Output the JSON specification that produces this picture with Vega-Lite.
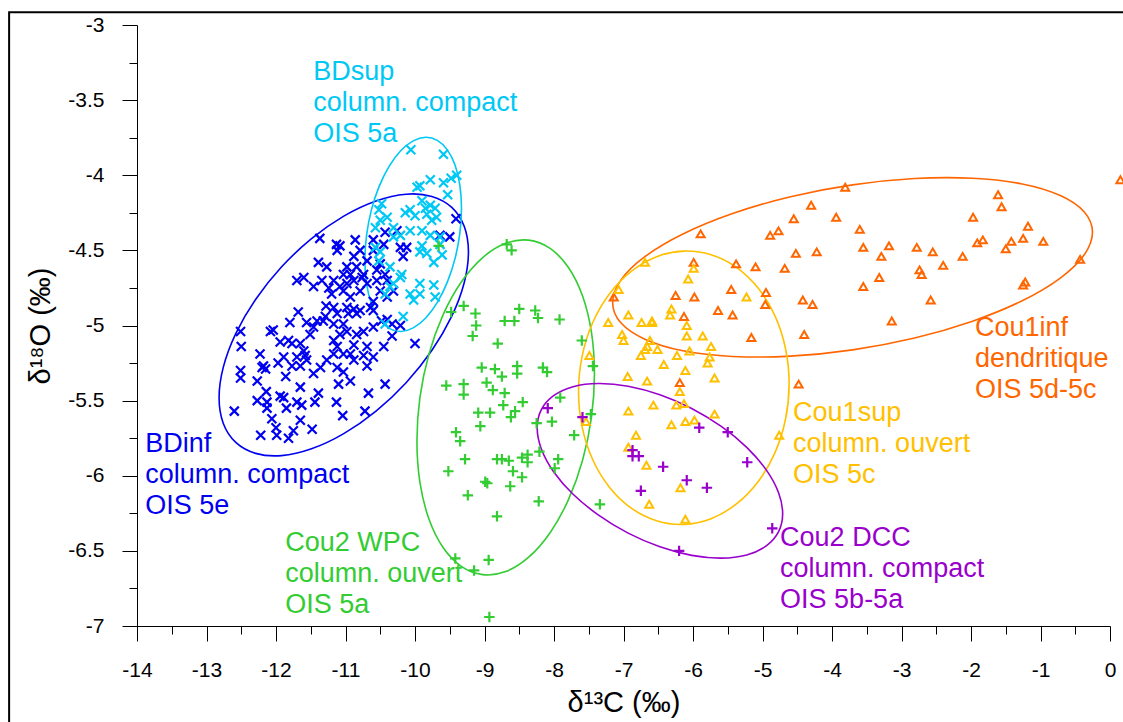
{
  "$schema": "https://vega.github.io/schema/vega-lite/v6.json",
  "width": 973,
  "height": 601,
  "autosize": "none",
  "padding": {"left": 137, "top": 25, "right": 13, "bottom": 96},
  "background": "white",
  "config": {
    "view": {"stroke": null},
    "font": "Liberation Sans",
    "axis": {"grid": false, "labelFont": "Liberation Sans", "titleFont": "Liberation Sans", "labelColor": "black", "titleColor": "black", "tickColor": "black", "domainColor": "black", "titleFontWeight": "normal", "labelFlush": false, "labelOverlap": false}
  },
  "datasets": {
    "frame": [{"x": -15.84, "y": -2.915, "x2": 0.3, "y2": -7.72}],
    "lab": [
      {"g": "BDsup", "x": -11.464, "y": -3.228, "t": "BDsup\ncolumn. compact\nOIS 5a"},
      {"g": "BDinf", "x": -13.881, "y": -5.705, "t": "BDinf\ncolumn. compact\nOIS 5e"},
      {"g": "Cou2 WPC", "x": -11.867, "y": -6.364, "t": "Cou2 WPC\ncolumn. ouvert\nOIS 5a"},
      {"g": "Cou2 DCC", "x": -4.747, "y": -6.331, "t": "Cou2 DCC\ncolumn. compact\nOIS 5b-5a"},
      {"g": "Cou1sup", "x": -4.56, "y": -5.499, "t": "Cou1sup\ncolumn. ouvert\nOIS 5c"},
      {"g": "Cou1inf", "x": -1.942, "y": -4.933, "t": "Cou1inf\ndendritique\nOIS 5d-5c"}
    ],
    "ell": [
      {"g":"BDinf","i":0,"x":-9.231,"y":-4.511},{"g":"BDinf","i":1,"x":-9.292,"y":-4.340},{"g":"BDinf","i":2,"x":-9.471,"y":-4.214},{"g":"BDinf","i":3,"x":-9.757,"y":-4.141},{"g":"BDinf","i":4,"x":-10.128,"y":-4.126},{"g":"BDinf","i":5,"x":-10.561,"y":-4.171},{"g":"BDinf","i":6,"x":-11.025,"y":-4.272},{"g":"BDinf","i":7,"x":-11.489,"y":-4.422},{"g":"BDinf","i":8,"x":-11.922,"y":-4.611},{"g":"BDinf","i":9,"x":-12.294,"y":-4.827},{"g":"BDinf","i":10,"x":-12.579,"y":-5.054},{"g":"BDinf","i":11,"x":-12.758,"y":-5.277},{"g":"BDinf","i":12,"x":-12.819,"y":-5.481},{"g":"BDinf","i":13,"x":-12.758,"y":-5.652},{"g":"BDinf","i":14,"x":-12.579,"y":-5.778},{"g":"BDinf","i":15,"x":-12.293,"y":-5.851},{"g":"BDinf","i":16,"x":-11.922,"y":-5.866},{"g":"BDinf","i":17,"x":-11.489,"y":-5.821},{"g":"BDinf","i":18,"x":-11.025,"y":-5.720},{"g":"BDinf","i":19,"x":-10.561,"y":-5.570},{"g":"BDinf","i":20,"x":-10.128,"y":-5.381},{"g":"BDinf","i":21,"x":-9.756,"y":-5.165},{"g":"BDinf","i":22,"x":-9.471,"y":-4.938},{"g":"BDinf","i":23,"x":-9.292,"y":-4.715},
      {"g":"BDsup","i":0,"x":-9.331,"y":-4.220},{"g":"BDsup","i":1,"x":-9.355,"y":-4.065},{"g":"BDsup","i":2,"x":-9.424,"y":-3.932},{"g":"BDsup","i":3,"x":-9.535,"y":-3.831},{"g":"BDsup","i":4,"x":-9.679,"y":-3.768},{"g":"BDsup","i":5,"x":-9.846,"y":-3.747},{"g":"BDsup","i":6,"x":-10.026,"y":-3.771},{"g":"BDsup","i":7,"x":-10.206,"y":-3.837},{"g":"BDsup","i":8,"x":-10.373,"y":-3.941},{"g":"BDsup","i":9,"x":-10.517,"y":-4.076},{"g":"BDsup","i":10,"x":-10.628,"y":-4.232},{"g":"BDsup","i":11,"x":-10.697,"y":-4.400},{"g":"BDsup","i":12,"x":-10.721,"y":-4.567},{"g":"BDsup","i":13,"x":-10.697,"y":-4.722},{"g":"BDsup","i":14,"x":-10.628,"y":-4.855},{"g":"BDsup","i":15,"x":-10.517,"y":-4.956},{"g":"BDsup","i":16,"x":-10.373,"y":-5.019},{"g":"BDsup","i":17,"x":-10.206,"y":-5.040},{"g":"BDsup","i":18,"x":-10.026,"y":-5.016},{"g":"BDsup","i":19,"x":-9.846,"y":-4.950},{"g":"BDsup","i":20,"x":-9.679,"y":-4.846},{"g":"BDsup","i":21,"x":-9.535,"y":-4.711},{"g":"BDsup","i":22,"x":-9.424,"y":-4.555},{"g":"BDsup","i":23,"x":-9.355,"y":-4.387},
      {"g":"Cou2 WPC","i":0,"x":-7.418,"y":-5.321},{"g":"Cou2 WPC","i":1,"x":-7.461,"y":-5.046},{"g":"Cou2 WPC","i":2,"x":-7.589,"y":-4.804},{"g":"Cou2 WPC","i":3,"x":-7.792,"y":-4.614},{"g":"Cou2 WPC","i":4,"x":-8.056,"y":-4.487},{"g":"Cou2 WPC","i":5,"x":-8.364,"y":-4.432},{"g":"Cou2 WPC","i":6,"x":-8.695,"y":-4.453},{"g":"Cou2 WPC","i":7,"x":-9.026,"y":-4.548},{"g":"Cou2 WPC","i":8,"x":-9.334,"y":-4.711},{"g":"Cou2 WPC","i":9,"x":-9.598,"y":-4.931},{"g":"Cou2 WPC","i":10,"x":-9.801,"y":-5.193},{"g":"Cou2 WPC","i":11,"x":-9.929,"y":-5.479},{"g":"Cou2 WPC","i":12,"x":-9.972,"y":-5.769},{"g":"Cou2 WPC","i":13,"x":-9.929,"y":-6.044},{"g":"Cou2 WPC","i":14,"x":-9.801,"y":-6.286},{"g":"Cou2 WPC","i":15,"x":-9.598,"y":-6.476},{"g":"Cou2 WPC","i":16,"x":-9.334,"y":-6.603},{"g":"Cou2 WPC","i":17,"x":-9.026,"y":-6.658},{"g":"Cou2 WPC","i":18,"x":-8.695,"y":-6.638},{"g":"Cou2 WPC","i":19,"x":-8.364,"y":-6.542},{"g":"Cou2 WPC","i":20,"x":-8.056,"y":-6.379},{"g":"Cou2 WPC","i":21,"x":-7.792,"y":-6.159},{"g":"Cou2 WPC","i":22,"x":-7.589,"y":-5.897},{"g":"Cou2 WPC","i":23,"x":-7.461,"y":-5.611},
      {"g":"Cou1inf","i":0,"x":-0.252,"y":-4.378},{"g":"Cou1inf","i":1,"x":-0.370,"y":-4.244},{"g":"Cou1inf","i":2,"x":-0.715,"y":-4.135},{"g":"Cou1inf","i":3,"x":-1.263,"y":-4.058},{"g":"Cou1inf","i":4,"x":-1.978,"y":-4.020},{"g":"Cou1inf","i":5,"x":-2.811,"y":-4.022},{"g":"Cou1inf","i":6,"x":-3.704,"y":-4.064},{"g":"Cou1inf","i":7,"x":-4.597,"y":-4.143},{"g":"Cou1inf","i":8,"x":-5.430,"y":-4.255},{"g":"Cou1inf","i":9,"x":-6.145,"y":-4.391},{"g":"Cou1inf","i":10,"x":-6.693,"y":-4.542},{"g":"Cou1inf","i":11,"x":-7.038,"y":-4.698},{"g":"Cou1inf","i":12,"x":-7.156,"y":-4.848},{"g":"Cou1inf","i":13,"x":-7.038,"y":-4.982},{"g":"Cou1inf","i":14,"x":-6.693,"y":-5.091},{"g":"Cou1inf","i":15,"x":-6.145,"y":-5.168},{"g":"Cou1inf","i":16,"x":-5.430,"y":-5.206},{"g":"Cou1inf","i":17,"x":-4.597,"y":-5.204},{"g":"Cou1inf","i":18,"x":-3.704,"y":-5.162},{"g":"Cou1inf","i":19,"x":-2.811,"y":-5.083},{"g":"Cou1inf","i":20,"x":-1.978,"y":-4.971},{"g":"Cou1inf","i":21,"x":-1.263,"y":-4.835},{"g":"Cou1inf","i":22,"x":-0.715,"y":-4.684},{"g":"Cou1inf","i":23,"x":-0.370,"y":-4.529},
      {"g":"Cou1sup","i":0,"x":-4.617,"y":-5.387},{"g":"Cou1sup","i":1,"x":-4.669,"y":-5.153},{"g":"Cou1sup","i":2,"x":-4.820,"y":-4.936},{"g":"Cou1sup","i":3,"x":-5.061,"y":-4.752},{"g":"Cou1sup","i":4,"x":-5.375,"y":-4.613},{"g":"Cou1sup","i":5,"x":-5.740,"y":-4.529},{"g":"Cou1sup","i":6,"x":-6.132,"y":-4.505},{"g":"Cou1sup","i":7,"x":-6.524,"y":-4.542},{"g":"Cou1sup","i":8,"x":-6.889,"y":-4.640},{"g":"Cou1sup","i":9,"x":-7.203,"y":-4.790},{"g":"Cou1sup","i":10,"x":-7.444,"y":-4.982},{"g":"Cou1sup","i":11,"x":-7.595,"y":-5.204},{"g":"Cou1sup","i":12,"x":-7.647,"y":-5.441},{"g":"Cou1sup","i":13,"x":-7.595,"y":-5.675},{"g":"Cou1sup","i":14,"x":-7.444,"y":-5.892},{"g":"Cou1sup","i":15,"x":-7.203,"y":-6.076},{"g":"Cou1sup","i":16,"x":-6.889,"y":-6.215},{"g":"Cou1sup","i":17,"x":-6.524,"y":-6.299},{"g":"Cou1sup","i":18,"x":-6.132,"y":-6.324},{"g":"Cou1sup","i":19,"x":-5.740,"y":-6.286},{"g":"Cou1sup","i":20,"x":-5.375,"y":-6.188},{"g":"Cou1sup","i":21,"x":-5.061,"y":-6.038},{"g":"Cou1sup","i":22,"x":-4.820,"y":-5.846},{"g":"Cou1sup","i":23,"x":-4.669,"y":-5.624},
      {"g":"Cou2 DCC","i":0,"x":-4.710,"y":-6.253},{"g":"Cou2 DCC","i":1,"x":-4.770,"y":-6.112},{"g":"Cou2 DCC","i":2,"x":-4.946,"y":-5.961},{"g":"Cou2 DCC","i":3,"x":-5.227,"y":-5.811},{"g":"Cou2 DCC","i":4,"x":-5.593,"y":-5.672},{"g":"Cou2 DCC","i":5,"x":-6.019,"y":-5.552},{"g":"Cou2 DCC","i":6,"x":-6.476,"y":-5.461},{"g":"Cou2 DCC","i":7,"x":-6.933,"y":-5.404},{"g":"Cou2 DCC","i":8,"x":-7.359,"y":-5.386},{"g":"Cou2 DCC","i":9,"x":-7.725,"y":-5.407},{"g":"Cou2 DCC","i":10,"x":-8.006,"y":-5.467},{"g":"Cou2 DCC","i":11,"x":-8.182,"y":-5.560},{"g":"Cou2 DCC","i":12,"x":-8.242,"y":-5.681},{"g":"Cou2 DCC","i":13,"x":-8.182,"y":-5.822},{"g":"Cou2 DCC","i":14,"x":-8.006,"y":-5.973},{"g":"Cou2 DCC","i":15,"x":-7.725,"y":-6.123},{"g":"Cou2 DCC","i":16,"x":-7.359,"y":-6.262},{"g":"Cou2 DCC","i":17,"x":-6.933,"y":-6.382},{"g":"Cou2 DCC","i":18,"x":-6.476,"y":-6.473},{"g":"Cou2 DCC","i":19,"x":-6.019,"y":-6.530},{"g":"Cou2 DCC","i":20,"x":-5.593,"y":-6.548},{"g":"Cou2 DCC","i":21,"x":-5.227,"y":-6.527},{"g":"Cou2 DCC","i":22,"x":-4.946,"y":-6.467},{"g":"Cou2 DCC","i":23,"x":-4.770,"y":-6.374}
    ],
    "pts": [
      {"g":"BDinf","x":-12.51,"y":-5.04},{"g":"BDinf","x":-12.50,"y":-5.14},{"g":"BDinf","x":-12.51,"y":-5.30},{"g":"BDinf","x":-12.51,"y":-5.35},{"g":"BDinf","x":-12.60,"y":-5.57},{"g":"BDinf","x":-12.23,"y":-5.19},{"g":"BDinf","x":-12.27,"y":-5.37},{"g":"BDinf","x":-12.20,"y":-5.28},{"g":"BDinf","x":-12.15,"y":-5.29},{"g":"BDinf","x":-12.14,"y":-5.44},
      {"g":"BDinf","x":-12.27,"y":-5.50},{"g":"BDinf","x":-12.13,"y":-5.51},{"g":"BDinf","x":-12.13,"y":-5.55},{"g":"BDinf","x":-12.06,"y":-5.62},{"g":"BDinf","x":-12.00,"y":-5.68},{"g":"BDinf","x":-11.99,"y":-5.73},{"g":"BDinf","x":-12.22,"y":-5.73},{"g":"BDinf","x":-11.82,"y":-5.75},{"g":"BDinf","x":-11.75,"y":-5.70},{"g":"BDinf","x":-11.65,"y":-5.63},
      {"g":"BDinf","x":-11.48,"y":-5.69},{"g":"BDinf","x":-11.94,"y":-5.47},{"g":"BDinf","x":-11.89,"y":-5.48},{"g":"BDinf","x":-11.85,"y":-5.55},{"g":"BDinf","x":-11.70,"y":-5.51},{"g":"BDinf","x":-11.63,"y":-5.53},{"g":"BDinf","x":-11.44,"y":-5.51},{"g":"BDinf","x":-11.39,"y":-5.45},{"g":"BDinf","x":-11.65,"y":-5.41},{"g":"BDinf","x":-11.86,"y":-5.34},
      {"g":"BDinf","x":-11.97,"y":-5.25},{"g":"BDinf","x":-11.89,"y":-5.21},{"g":"BDinf","x":-12.08,"y":-5.04},{"g":"BDinf","x":-12.04,"y":-5.03},{"g":"BDinf","x":-11.94,"y":-5.11},{"g":"BDinf","x":-11.82,"y":-5.10},{"g":"BDinf","x":-11.77,"y":-5.12},{"g":"BDinf","x":-11.65,"y":-5.12},{"g":"BDinf","x":-11.80,"y":-4.98},{"g":"BDinf","x":-11.68,"y":-4.91},
      {"g":"BDinf","x":-11.56,"y":-4.98},{"g":"BDinf","x":-11.70,"y":-4.70},{"g":"BDinf","x":-11.60,"y":-4.68},{"g":"BDinf","x":-11.46,"y":-4.74},{"g":"BDinf","x":-11.39,"y":-4.58},{"g":"BDinf","x":-11.27,"y":-4.61},{"g":"BDinf","x":-11.34,"y":-4.70},{"g":"BDinf","x":-11.37,"y":-4.42},{"g":"BDinf","x":-11.13,"y":-4.46},{"g":"BDinf","x":-11.12,"y":-4.50},
      {"g":"BDinf","x":-11.08,"y":-4.47},{"g":"BDinf","x":-10.86,"y":-4.43},{"g":"BDinf","x":-11.24,"y":-4.75},{"g":"BDinf","x":-11.20,"y":-4.79},{"g":"BDinf","x":-11.28,"y":-4.87},{"g":"BDinf","x":-11.17,"y":-4.88},{"g":"BDinf","x":-11.12,"y":-4.92},{"g":"BDinf","x":-10.98,"y":-4.88},{"g":"BDinf","x":-10.88,"y":-4.89},{"g":"BDinf","x":-10.79,"y":-4.90},
      {"g":"BDinf","x":-11.65,"y":-5.27},{"g":"BDinf","x":-11.56,"y":-5.23},{"g":"BDinf","x":-11.46,"y":-5.32},{"g":"BDinf","x":-11.58,"y":-5.20},{"g":"BDinf","x":-11.36,"y":-5.28},{"g":"BDinf","x":-11.27,"y":-5.23},{"g":"BDinf","x":-11.17,"y":-5.19},{"g":"BDinf","x":-11.12,"y":-5.28},{"g":"BDinf","x":-11.03,"y":-5.31},{"g":"BDinf","x":-10.93,"y":-5.37},
      {"g":"BDinf","x":-11.10,"y":-5.39},{"g":"BDinf","x":-11.13,"y":-5.51},{"g":"BDinf","x":-11.04,"y":-5.60},{"g":"BDinf","x":-10.72,"y":-5.57},{"g":"BDinf","x":-10.67,"y":-5.45},{"g":"BDinf","x":-10.43,"y":-5.39},{"g":"BDinf","x":-10.69,"y":-5.27},{"g":"BDinf","x":-10.74,"y":-5.20},{"g":"BDinf","x":-10.60,"y":-5.21},{"g":"BDinf","x":-10.45,"y":-5.14},
      {"g":"BDinf","x":-10.00,"y":-5.12},{"g":"BDinf","x":-10.88,"y":-5.23},{"g":"BDinf","x":-10.93,"y":-5.19},{"g":"BDinf","x":-10.84,"y":-5.06},{"g":"BDinf","x":-10.98,"y":-5.04},{"g":"BDinf","x":-11.03,"y":-4.99},{"g":"BDinf","x":-11.17,"y":-4.99},{"g":"BDinf","x":-11.32,"y":-4.97},{"g":"BDinf","x":-11.46,"y":-5.01},{"g":"BDinf","x":-11.51,"y":-5.06},
      {"g":"BDinf","x":-11.17,"y":-5.10},{"g":"BDinf","x":-11.12,"y":-5.14},{"g":"BDinf","x":-11.08,"y":-5.06},{"g":"BDinf","x":-10.74,"y":-5.04},{"g":"BDinf","x":-10.60,"y":-5.01},{"g":"BDinf","x":-10.48,"y":-4.97},{"g":"BDinf","x":-10.33,"y":-4.99},{"g":"BDinf","x":-10.33,"y":-5.07},{"g":"BDinf","x":-10.21,"y":-5.00},{"g":"BDinf","x":-10.40,"y":-4.81},
      {"g":"BDinf","x":-10.50,"y":-4.77},{"g":"BDinf","x":-10.40,"y":-4.70},{"g":"BDinf","x":-10.55,"y":-4.70},{"g":"BDinf","x":-10.69,"y":-4.72},{"g":"BDinf","x":-10.79,"y":-4.77},{"g":"BDinf","x":-10.88,"y":-4.70},{"g":"BDinf","x":-10.98,"y":-4.72},{"g":"BDinf","x":-11.03,"y":-4.77},{"g":"BDinf","x":-10.93,"y":-4.81},{"g":"BDinf","x":-10.84,"y":-4.61},
      {"g":"BDinf","x":-10.98,"y":-4.61},{"g":"BDinf","x":-11.03,"y":-4.66},{"g":"BDinf","x":-10.88,"y":-4.54},{"g":"BDinf","x":-10.79,"y":-4.50},{"g":"BDinf","x":-10.69,"y":-4.57},{"g":"BDinf","x":-10.60,"y":-4.50},{"g":"BDinf","x":-10.60,"y":-4.43},{"g":"BDinf","x":-10.45,"y":-4.46},{"g":"BDinf","x":-10.43,"y":-4.38},{"g":"BDinf","x":-10.26,"y":-4.37},
      {"g":"BDinf","x":-10.21,"y":-4.48},{"g":"BDinf","x":-10.17,"y":-4.54},{"g":"BDinf","x":-10.50,"y":-4.59},{"g":"BDinf","x":-10.43,"y":-4.66},{"g":"BDinf","x":-10.31,"y":-4.77},{"g":"BDinf","x":-10.60,"y":-4.84},{"g":"BDinf","x":-10.64,"y":-4.88},{"g":"BDinf","x":-10.76,"y":-4.68},{"g":"BDinf","x":-10.93,"y":-4.66},{"g":"BDinf","x":-10.74,"y":-4.66},
      {"g":"BDinf","x":-10.55,"y":-4.63},{"g":"BDinf","x":-11.17,"y":-4.70},{"g":"BDinf","x":-11.08,"y":-4.74},{"g":"BDinf","x":-11.29,"y":-4.94},{"g":"BDinf","x":-10.12,"y":-4.48},{"g":"BDinf","x":-9.64,"y":-4.40},{"g":"BDinf","x":-9.50,"y":-4.41},{"g":"BDinf","x":-9.41,"y":-4.29},{"g":"BDinf","x":-10.96,"y":-4.92},{"g":"BDinf","x":-10.84,"y":-4.92},
      {"g":"BDinf","x":-11.60,"y":-5.17},{"g":"BDinf","x":-11.77,"y":-5.27},{"g":"BDinf","x":-12.18,"y":-5.27},{"g":"BDinf","x":-10.40,"y":-4.96},{"g":"BDinf","x":-10.60,"y":-4.90},{"g":"BDinf","x":-11.03,"y":-5.19},{"g":"BDinf","x":-11.41,"y":-4.97},{"g":"BDinf","x":-11.70,"y":-5.21},{"g":"BDinf","x":-10.88,"y":-5.13},{"g":"BDinf","x":-10.69,"y":-5.14},
      {"g":"BDsup","x":-10.06,"y":-3.83},{"g":"BDsup","x":-9.59,"y":-3.86},{"g":"BDsup","x":-9.40,"y":-4.00},{"g":"BDsup","x":-9.48,"y":-4.02},{"g":"BDsup","x":-9.59,"y":-4.05},{"g":"BDsup","x":-9.53,"y":-4.13},{"g":"BDsup","x":-9.78,"y":-4.03},{"g":"BDsup","x":-9.93,"y":-4.07},{"g":"BDsup","x":-9.97,"y":-4.08},{"g":"BDsup","x":-9.90,"y":-4.17},
      {"g":"BDsup","x":-10.07,"y":-4.23},{"g":"BDsup","x":-10.14,"y":-4.25},{"g":"BDsup","x":-10.00,"y":-4.27},{"g":"BDsup","x":-9.85,"y":-4.22},{"g":"BDsup","x":-9.78,"y":-4.20},{"g":"BDsup","x":-9.71,"y":-4.22},{"g":"BDsup","x":-9.83,"y":-4.26},{"g":"BDsup","x":-9.69,"y":-4.28},{"g":"BDsup","x":-9.76,"y":-4.30},{"g":"BDsup","x":-10.48,"y":-4.19},
      {"g":"BDsup","x":-10.52,"y":-4.23},{"g":"BDsup","x":-10.40,"y":-4.28},{"g":"BDsup","x":-10.57,"y":-4.35},{"g":"BDsup","x":-10.31,"y":-4.35},{"g":"BDsup","x":-10.07,"y":-4.37},{"g":"BDsup","x":-10.21,"y":-4.40},{"g":"BDsup","x":-9.90,"y":-4.37},{"g":"BDsup","x":-9.78,"y":-4.40},{"g":"BDsup","x":-10.31,"y":-4.41},{"g":"BDsup","x":-9.90,"y":-4.47},
      {"g":"BDsup","x":-9.64,"y":-4.46},{"g":"BDsup","x":-9.61,"y":-4.53},{"g":"BDsup","x":-9.83,"y":-4.52},{"g":"BDsup","x":-9.93,"y":-4.51},{"g":"BDsup","x":-10.50,"y":-4.51},{"g":"BDsup","x":-10.57,"y":-4.48},{"g":"BDsup","x":-10.52,"y":-4.57},{"g":"BDsup","x":-10.36,"y":-4.61},{"g":"BDsup","x":-10.19,"y":-4.66},{"g":"BDsup","x":-10.31,"y":-4.72},
      {"g":"BDsup","x":-9.93,"y":-4.72},{"g":"BDsup","x":-9.73,"y":-4.73},{"g":"BDsup","x":-9.93,"y":-4.79},{"g":"BDsup","x":-10.07,"y":-4.79},{"g":"BDsup","x":-10.02,"y":-4.83},{"g":"BDsup","x":-9.71,"y":-4.81},{"g":"BDsup","x":-10.17,"y":-4.94},{"g":"BDsup","x":-10.43,"y":-4.99},{"g":"BDsup","x":-9.64,"y":-4.41},{"g":"BDsup","x":-10.50,"y":-4.30},
      {"g":"BDsup","x":-9.73,"y":-4.58},{"g":"BDsup","x":-10.43,"y":-4.79},{"g":"BDsup","x":-10.21,"y":-4.68},{"g":"BDsup","x":-10.36,"y":-4.74},
      {"g":"Cou2 WPC","x":-8.68,"y":-4.46},{"g":"Cou2 WPC","x":-8.61,"y":-4.50},{"g":"Cou2 WPC","x":-9.48,"y":-4.91},{"g":"Cou2 WPC","x":-9.30,"y":-4.87},{"g":"Cou2 WPC","x":-9.13,"y":-4.92},{"g":"Cou2 WPC","x":-9.12,"y":-5.00},{"g":"Cou2 WPC","x":-9.17,"y":-5.07},{"g":"Cou2 WPC","x":-8.81,"y":-5.12},{"g":"Cou2 WPC","x":-8.50,"y":-4.89},{"g":"Cou2 WPC","x":-8.27,"y":-4.90},
      {"g":"Cou2 WPC","x":-8.23,"y":-4.95},{"g":"Cou2 WPC","x":-8.71,"y":-4.97},{"g":"Cou2 WPC","x":-8.57,"y":-4.97},{"g":"Cou2 WPC","x":-7.92,"y":-4.96},{"g":"Cou2 WPC","x":-7.60,"y":-5.10},{"g":"Cou2 WPC","x":-7.44,"y":-5.27},{"g":"Cou2 WPC","x":-9.04,"y":-5.28},{"g":"Cou2 WPC","x":-8.85,"y":-5.29},{"g":"Cou2 WPC","x":-8.75,"y":-5.34},{"g":"Cou2 WPC","x":-8.53,"y":-5.27},
      {"g":"Cou2 WPC","x":-8.53,"y":-5.32},{"g":"Cou2 WPC","x":-8.16,"y":-5.28},{"g":"Cou2 WPC","x":-8.10,"y":-5.31},{"g":"Cou2 WPC","x":-9.55,"y":-5.40},{"g":"Cou2 WPC","x":-9.30,"y":-5.39},{"g":"Cou2 WPC","x":-9.30,"y":-5.46},{"g":"Cou2 WPC","x":-8.97,"y":-5.38},{"g":"Cou2 WPC","x":-8.88,"y":-5.43},{"g":"Cou2 WPC","x":-8.71,"y":-5.45},{"g":"Cou2 WPC","x":-8.73,"y":-5.53},
      {"g":"Cou2 WPC","x":-8.56,"y":-5.57},{"g":"Cou2 WPC","x":-8.45,"y":-5.51},{"g":"Cou2 WPC","x":-8.62,"y":-5.61},{"g":"Cou2 WPC","x":-9.09,"y":-5.58},{"g":"Cou2 WPC","x":-8.92,"y":-5.58},{"g":"Cou2 WPC","x":-9.06,"y":-5.67},{"g":"Cou2 WPC","x":-7.91,"y":-5.48},{"g":"Cou2 WPC","x":-8.03,"y":-5.64},{"g":"Cou2 WPC","x":-8.25,"y":-5.65},{"g":"Cou2 WPC","x":-7.47,"y":-5.59},
      {"g":"Cou2 WPC","x":-7.71,"y":-5.73},{"g":"Cou2 WPC","x":-9.41,"y":-5.71},{"g":"Cou2 WPC","x":-9.35,"y":-5.77},{"g":"Cou2 WPC","x":-9.28,"y":-5.89},{"g":"Cou2 WPC","x":-9.52,"y":-5.97},{"g":"Cou2 WPC","x":-8.82,"y":-5.89},{"g":"Cou2 WPC","x":-8.75,"y":-5.89},{"g":"Cou2 WPC","x":-8.65,"y":-5.90},{"g":"Cou2 WPC","x":-8.59,"y":-5.97},{"g":"Cou2 WPC","x":-8.46,"y":-6.01},
      {"g":"Cou2 WPC","x":-8.63,"y":-6.07},{"g":"Cou2 WPC","x":-8.99,"y":-6.04},{"g":"Cou2 WPC","x":-8.96,"y":-6.05},{"g":"Cou2 WPC","x":-8.46,"y":-5.88},{"g":"Cou2 WPC","x":-8.38,"y":-5.86},{"g":"Cou2 WPC","x":-8.38,"y":-5.91},{"g":"Cou2 WPC","x":-8.21,"y":-5.84},{"g":"Cou2 WPC","x":-7.94,"y":-5.89},{"g":"Cou2 WPC","x":-7.99,"y":-5.95},{"g":"Cou2 WPC","x":-9.24,"y":-6.13},
      {"g":"Cou2 WPC","x":-8.22,"y":-6.17},{"g":"Cou2 WPC","x":-8.82,"y":-6.27},{"g":"Cou2 WPC","x":-9.42,"y":-6.55},{"g":"Cou2 WPC","x":-9.15,"y":-6.63},{"g":"Cou2 WPC","x":-8.94,"y":-6.56},{"g":"Cou2 WPC","x":-8.93,"y":-6.94},{"g":"Cou2 WPC","x":-7.34,"y":-6.19},{"g":"Cou2 WPC","x":-9.66,"y":-4.47},
      {"g":"Cou1inf","x":-3.81,"y":-4.08},{"g":"Cou1inf","x":-4.30,"y":-4.20},{"g":"Cou1inf","x":-4.55,"y":-4.29},{"g":"Cou1inf","x":-3.94,"y":-4.28},{"g":"Cou1inf","x":-5.89,"y":-4.39},{"g":"Cou1inf","x":-4.89,"y":-4.40},{"g":"Cou1inf","x":-4.77,"y":-4.37},{"g":"Cou1inf","x":-3.60,"y":-4.36},{"g":"Cou1inf","x":-4.52,"y":-4.52},{"g":"Cou1inf","x":-4.22,"y":-4.51},
      {"g":"Cou1inf","x":-5.99,"y":-4.58},{"g":"Cou1inf","x":-5.38,"y":-4.59},{"g":"Cou1inf","x":-5.10,"y":-4.61},{"g":"Cou1inf","x":-4.68,"y":-4.62},{"g":"Cou1inf","x":-3.55,"y":-4.48},{"g":"Cou1inf","x":-3.18,"y":-4.47},{"g":"Cou1inf","x":-3.29,"y":-4.54},{"g":"Cou1inf","x":-2.78,"y":-4.48},{"g":"Cou1inf","x":-2.55,"y":-4.51},{"g":"Cou1inf","x":-2.12,"y":-4.54},
      {"g":"Cou1inf","x":-2.40,"y":-4.60},{"g":"Cou1inf","x":-2.74,"y":-4.63},{"g":"Cou1inf","x":-2.71,"y":-4.66},{"g":"Cou1inf","x":-3.32,"y":-4.68},{"g":"Cou1inf","x":-3.55,"y":-4.74},{"g":"Cou1inf","x":-1.97,"y":-4.28},{"g":"Cou1inf","x":-1.61,"y":-4.13},{"g":"Cou1inf","x":-1.56,"y":-4.21},{"g":"Cou1inf","x":-1.18,"y":-4.34},{"g":"Cou1inf","x":-1.91,"y":-4.45},
      {"g":"Cou1inf","x":-1.83,"y":-4.43},{"g":"Cou1inf","x":-1.42,"y":-4.44},{"g":"Cou1inf","x":-1.25,"y":-4.42},{"g":"Cou1inf","x":-0.96,"y":-4.44},{"g":"Cou1inf","x":-1.50,"y":-4.49},{"g":"Cou1inf","x":-0.43,"y":-4.56},{"g":"Cou1inf","x":-1.22,"y":-4.71},{"g":"Cou1inf","x":-1.25,"y":-4.73},{"g":"Cou1inf","x":-2.58,"y":-4.83},{"g":"Cou1inf","x":-3.14,"y":-4.97},
      {"g":"Cou1inf","x":-4.42,"y":-4.83},{"g":"Cou1inf","x":-4.28,"y":-4.86},{"g":"Cou1inf","x":-4.40,"y":-5.06},{"g":"Cou1inf","x":-5.16,"y":-5.08},{"g":"Cou1inf","x":-4.95,"y":-4.78},{"g":"Cou1inf","x":-4.96,"y":-4.86},{"g":"Cou1inf","x":-5.45,"y":-4.76},{"g":"Cou1inf","x":-6.25,"y":-4.80},{"g":"Cou1inf","x":-5.98,"y":-4.81},{"g":"Cou1inf","x":-5.64,"y":-4.90},
      {"g":"Cou1inf","x":-5.43,"y":-4.93},{"g":"Cou1inf","x":-6.13,"y":-4.94},{"g":"Cou1inf","x":-7.14,"y":-4.81},{"g":"Cou1inf","x":0.15,"y":-4.03},{"g":"Cou1inf","x":-4.48,"y":-5.39},{"g":"Cou1inf","x":-6.19,"y":-5.38},
      {"g":"Cou1sup","x":-6.69,"y":-4.58},{"g":"Cou1sup","x":-5.99,"y":-4.62},{"g":"Cou1sup","x":-6.07,"y":-4.69},{"g":"Cou1sup","x":-7.07,"y":-4.76},{"g":"Cou1sup","x":-5.23,"y":-4.81},{"g":"Cou1sup","x":-6.31,"y":-4.89},{"g":"Cou1sup","x":-6.33,"y":-4.93},{"g":"Cou1sup","x":-6.93,"y":-4.93},{"g":"Cou1sup","x":-7.22,"y":-4.98},{"g":"Cou1sup","x":-6.74,"y":-4.98},
      {"g":"Cou1sup","x":-6.59,"y":-4.97},{"g":"Cou1sup","x":-6.59,"y":-4.98},{"g":"Cou1sup","x":-6.09,"y":-5.00},{"g":"Cou1sup","x":-7.02,"y":-5.06},{"g":"Cou1sup","x":-7.00,"y":-5.10},{"g":"Cou1sup","x":-6.62,"y":-5.10},{"g":"Cou1sup","x":-6.09,"y":-5.07},{"g":"Cou1sup","x":-5.86,"y":-5.07},{"g":"Cou1sup","x":-5.74,"y":-5.14},{"g":"Cou1sup","x":-6.66,"y":-5.14},
      {"g":"Cou1sup","x":-6.69,"y":-5.16},{"g":"Cou1sup","x":-6.51,"y":-5.16},{"g":"Cou1sup","x":-6.75,"y":-5.20},{"g":"Cou1sup","x":-6.05,"y":-5.17},{"g":"Cou1sup","x":-6.23,"y":-5.20},{"g":"Cou1sup","x":-5.76,"y":-5.21},{"g":"Cou1sup","x":-5.79,"y":-5.25},{"g":"Cou1sup","x":-6.42,"y":-5.26},{"g":"Cou1sup","x":-7.49,"y":-5.20},{"g":"Cou1sup","x":-6.11,"y":-5.30},
      {"g":"Cou1sup","x":-5.69,"y":-5.35},{"g":"Cou1sup","x":-6.94,"y":-5.34},{"g":"Cou1sup","x":-6.66,"y":-5.37},{"g":"Cou1sup","x":-6.19,"y":-5.44},{"g":"Cou1sup","x":-6.57,"y":-5.53},{"g":"Cou1sup","x":-6.24,"y":-5.53},{"g":"Cou1sup","x":-6.13,"y":-5.52},{"g":"Cou1sup","x":-6.93,"y":-5.57},{"g":"Cou1sup","x":-5.69,"y":-5.59},{"g":"Cou1sup","x":-7.54,"y":-5.64},
      {"g":"Cou1sup","x":-6.31,"y":-5.66},{"g":"Cou1sup","x":-6.11,"y":-5.64},{"g":"Cou1sup","x":-5.98,"y":-5.63},{"g":"Cou1sup","x":-6.82,"y":-5.73},{"g":"Cou1sup","x":-6.93,"y":-5.81},{"g":"Cou1sup","x":-6.67,"y":-5.93},{"g":"Cou1sup","x":-6.18,"y":-6.08},{"g":"Cou1sup","x":-6.63,"y":-6.19},{"g":"Cou1sup","x":-6.11,"y":-6.29},{"g":"Cou1sup","x":-4.76,"y":-5.73},
      {"g":"Cou2 DCC","x":-8.09,"y":-5.55},{"g":"Cou2 DCC","x":-7.59,"y":-5.61},{"g":"Cou2 DCC","x":-6.87,"y":-5.83},{"g":"Cou2 DCC","x":-6.87,"y":-5.87},{"g":"Cou2 DCC","x":-6.78,"y":-5.87},{"g":"Cou2 DCC","x":-6.43,"y":-5.94},{"g":"Cou2 DCC","x":-5.91,"y":-5.68},{"g":"Cou2 DCC","x":-5.50,"y":-5.71},{"g":"Cou2 DCC","x":-5.22,"y":-5.91},{"g":"Cou2 DCC","x":-6.09,"y":-6.03},
      {"g":"Cou2 DCC","x":-5.80,"y":-6.08},{"g":"Cou2 DCC","x":-6.75,"y":-6.10},{"g":"Cou2 DCC","x":-4.86,"y":-6.35},{"g":"Cou2 DCC","x":-6.20,"y":-6.50}
    ]
  },
  "encoding": {
    "x": {
      "field": "x", "type": "quantitative",
      "scale": {"domain": [-14, 0], "nice": false, "zero": false},
      "axis": {
        "title": "δ¹³C (‰)",
        "values": [-14,-13.5,-13,-12.5,-12,-11.5,-11,-10.5,-10,-9.5,-9,-8.5,-8,-7.5,-7,-6.5,-6,-5.5,-5,-4.5,-4,-3.5,-3,-2.5,-2,-1.5,-1,-0.5,0],
        "labelExpr": "datum.value % 1 === 0 ? toString(datum.value) : ''",
        "tickSize": {"condition": {"test": "datum.value % 1 !== 0", "value": 8}, "value": 15},
        "labelPadding": 18,
        "labelFontSize": 21,
        "titleFontSize": 29,
        "titlePadding": 8
      }
    },
    "y": {
      "field": "y", "type": "quantitative",
      "scale": {"domain": [-7, -3], "nice": false, "zero": false},
      "axis": {
        "title": "δ¹⁸O (‰)",
        "values": [-7,-6.75,-6.5,-6.25,-6,-5.75,-5.5,-5.25,-5,-4.75,-4.5,-4.25,-4,-3.75,-3.5,-3.25,-3],
        "labelExpr": "(datum.value * 2) % 1 === 0 ? toString(datum.value) : ''",
        "tickSize": {"condition": {"test": "(datum.value * 2) % 1 !== 0", "value": 8}, "value": 15},
        "labelPadding": 18,
        "labelFontSize": 21,
        "titleFontSize": 29,
        "titlePadding": 12
      }
    }
  },
  "layer": [
    {
      "data": {"name": "frame"},
      "mark": {"type": "rect", "filled": false, "color": "black", "strokeWidth": 2, "clip": false},
      "encoding": {"x2": {"field": "x2"}, "y2": {"field": "y2"}}
    },
    {
      "data": {"name": "ell"},
      "mark": {"type": "line", "interpolate": "cardinal-closed", "strokeWidth": 1.6},
      "encoding": {
        "color": {"field": "g", "type": "nominal", "legend": null, "scale": {"domain": ["BDinf","BDsup","Cou2 WPC","Cou2 DCC","Cou1inf","Cou1sup"], "range": ["#0000f0","#00c8f5","#33cc33","#9900cc","#ff6600","#ffc000"]}},
        "order": {"field": "i", "type": "quantitative"}
      }
    },
    {
      "data": {"name": "pts"},
      "transform": [{"filter": "datum.g === 'BDinf' || datum.g === 'BDsup'"}],
      "mark": {"type": "point", "shape": "M-1,-1L1,1M-1,1L1,-1", "filled": false, "size": 81, "strokeWidth": 2.2, "opacity": 1},
      "encoding": {"color": {"field": "g", "type": "nominal", "legend": null}}
    },
    {
      "data": {"name": "pts"},
      "transform": [{"filter": "datum.g === 'Cou1inf' || datum.g === 'Cou1sup'"}],
      "mark": {"type": "point", "shape": "triangle-up", "filled": false, "size": 64, "strokeWidth": 2, "opacity": 1},
      "encoding": {"color": {"field": "g", "type": "nominal", "legend": null}}
    },
    {
      "data": {"name": "pts"},
      "transform": [{"filter": "datum.g === 'Cou2 WPC' || datum.g === 'Cou2 DCC'"}],
      "mark": {"type": "point", "shape": "M-1,0L1,0M0,-1L0,1", "filled": false, "size": 110, "strokeWidth": 2.2, "opacity": 1},
      "encoding": {"color": {"field": "g", "type": "nominal", "legend": null}}
    },
    {
      "data": {"name": "lab"},
      "mark": {"type": "text", "align": "left", "baseline": "top", "fontSize": 27, "lineHeight": 31, "lineBreak": "\n", "font": "Liberation Sans"},
      "encoding": {
        "text": {"field": "t"},
        "color": {"field": "g", "type": "nominal", "legend": null}
      }
    }
  ]
}
